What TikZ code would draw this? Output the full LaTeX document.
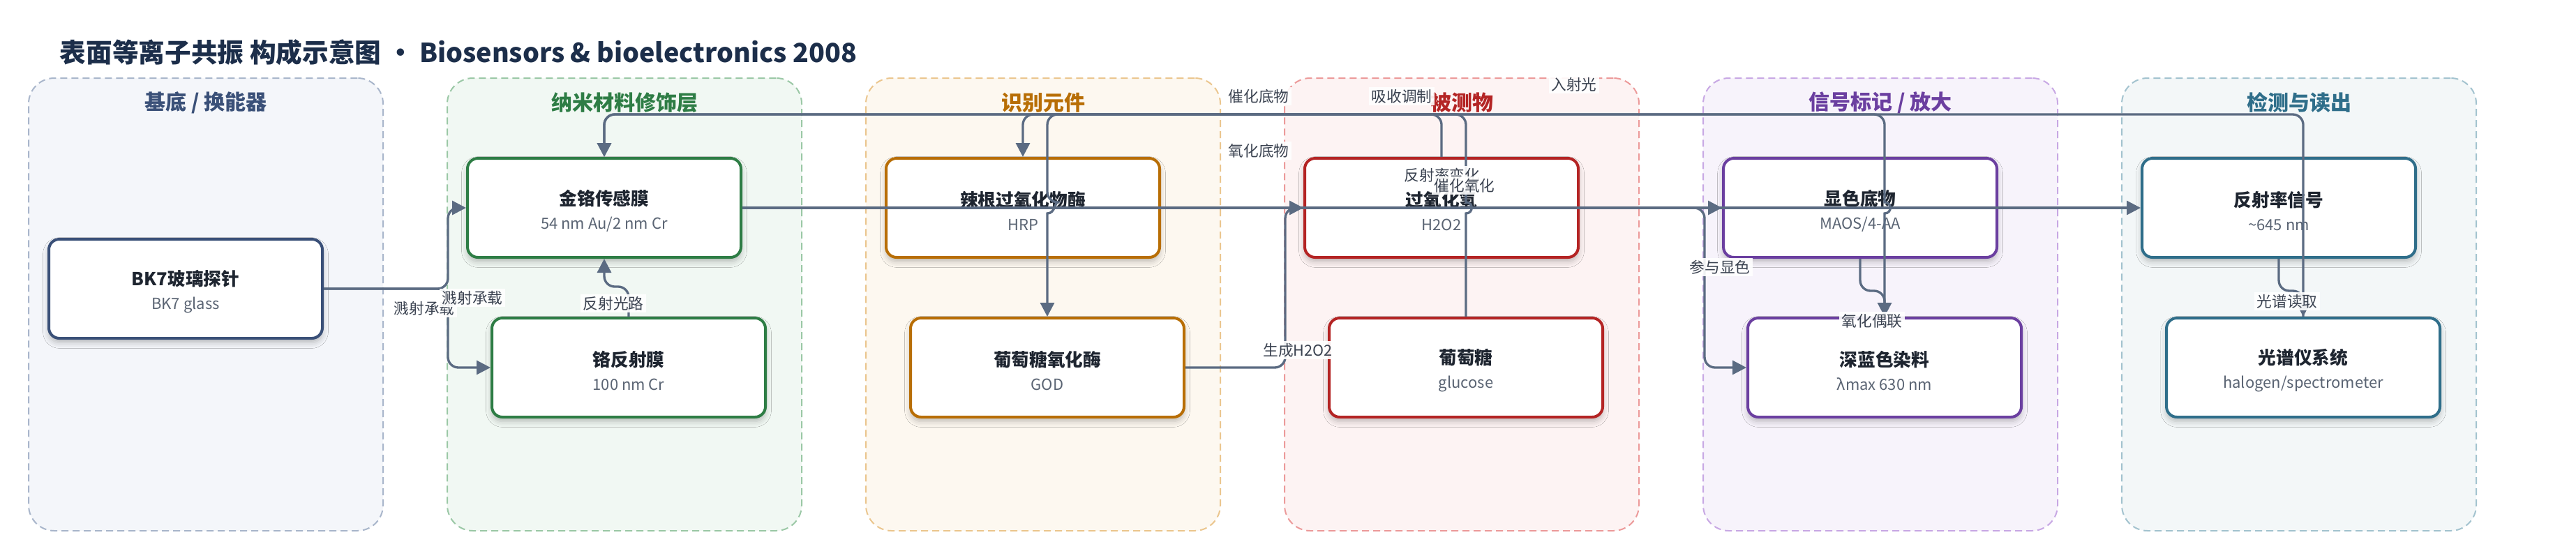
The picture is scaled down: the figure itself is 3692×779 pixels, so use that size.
\documentclass[tikz,border=0pt]{standalone}
\usepackage{fontspec}
\setmainfont{Noto Sans CJK SC}
\usetikzlibrary{arrows.meta,shadows.blur}

\definecolor{ink}{HTML}{1C2E4A}
\definecolor{flowc}{HTML}{5B6B82}
\definecolor{tagc}{HTML}{3A4250}
\definecolor{namec}{HTML}{1E2530}
\definecolor{subc}{HTML}{5A6473}
% lane colours: B border, F fill, T title and box
\definecolor{baseB}{HTML}{A9B6CB}\definecolor{baseF}{HTML}{F4F6FA}\definecolor{baseT}{HTML}{3A5078}
\definecolor{nanoB}{HTML}{9BC8A6}\definecolor{nanoF}{HTML}{F1F8F3}\definecolor{nanoT}{HTML}{2E7D45}
\definecolor{recoB}{HTML}{EBC68E}\definecolor{recoF}{HTML}{FDF8F0}\definecolor{recoT}{HTML}{B86E05}
\definecolor{anaB}{HTML}{EC9A9A}\definecolor{anaF}{HTML}{FDF3F3}\definecolor{anaT}{HTML}{B42424}
\definecolor{sigB}{HTML}{C8A8E4}\definecolor{sigF}{HTML}{F7F3FB}\definecolor{sigT}{HTML}{6B3FA0}
\definecolor{readB}{HTML}{A3C3CF}\definecolor{readF}{HTML}{F3F7F8}\definecolor{readT}{HTML}{2F6E8A}

\tikzset{
	lane/.style={draw=#1B, fill=#1F, dash pattern=on 3pt off 1.8pt, line width=0.6pt,
			rounded corners=11pt, minimum width=152.4pt, minimum height=194.7pt},
	lanetitle/.style={text=#1T, font=\fontsize{9}{10}\selectfont\bfseries},
	part/.style={draw=#1T, fill=white, line width=1.2pt, rounded corners=4.5pt,
			minimum width=117.6pt, minimum height=42.6pt, align=center,
			font=\fontsize{7.7}{10.2}\selectfont,
			blur shadow={shadow xshift=0pt, shadow yshift=-1.8pt, shadow blur radius=2.5pt, shadow opacity=25}},
	flow/.style={draw=flowc, line width=1pt, -{Triangle[length=6pt,width=6pt]}},
	tag/.style={fill=white, fill opacity=0.9, text opacity=1, text=tagc, inner sep=1pt,
			font=\fontsize{6.5}{7}\selectfont}
}
\newcommand{\parttext}[2]{\rule{0pt}{9.2pt}{\bfseries\color{namec}#1}\\{\fontsize{6.6}{10.2}\selectfont\color{subc}#2}}

\begin{document}
\begin{tikzpicture}[x=0.3pt,y=-0.3pt]
	\fill[white] (0,0) rectangle (3692,779);
	\useasboundingbox (0,0) rectangle (3692,779);

	% title
	\node[anchor=west, text=ink, font=\fontsize{11.3}{13}\selectfont\bfseries] (title) at (74,75)
	{表面等离子共振 构成示意图 · Biosensors \& bioelectronics 2008};

	% lanes
	\foreach \i/\c/\t in {0/base/{基底 / 换能器}, 1/nano/纳米材料修饰层, 2/reco/识别元件,
			3/ana/被测物, 4/sig/{信号标记 / 放大}, 5/read/检测与读出} {
			\node[lane=\c] (lane\i) at (295+600*\i,436.5) {};
			\node[lanetitle=\c] (lt\i) at (295+600*\i,147) {\t};
		}

	% parts
	\node[part=base] (bk7) at (266,414) {\parttext{BK7玻璃探针}{BK7 glass}};
	\node[part=nano] (gold) at (866,298) {\parttext{金铬传感膜}{54 nm Au/2 nm Cr}};
	\node[part=nano] (chrome) at (901,527) {\parttext{铬反射膜}{100 nm Cr}};
	\node[part=reco] (hrp) at (1466,298) {\parttext{辣根过氧化物酶}{HRP}};
	\node[part=reco] (god) at (1501,527) {\parttext{葡萄糖氧化酶}{GOD}};
	\node[part=ana] (h2o2) at (2066,298) {\parttext{过氧化氢}{H2O2}};
	\node[part=ana] (glu) at (2101,527) {\parttext{葡萄糖}{glucose}};
	\node[part=sig] (chromo) at (2666,298) {\parttext{显色底物}{MAOS/4-AA}};
	\node[part=sig] (dye) at (2701,527) {\parttext{深蓝色染料}{λmax 630 nm}};
	\node[part=read] (refl) at (3266,298) {\parttext{反射率信号}{\textasciitilde645 nm}};
	\node[part=read] (spec) at (3301,527) {\parttext{光谱仪系统}{halogen/spectrometer}};

	% routing helpers
	\coordinate (top) at (0,164);
	\coordinate (hophi) at (0,290);
	\coordinate (hoplo) at (0,306);
	\coordinate (g1) at (642,0);
	\coordinate (g3) at (1842,0);
	\coordinate (g4) at (2443,0);

	% substrate and films
	\draw[flow, rounded corners=4.5pt] (bk7.east) -| (g1 |- gold.west) -- (gold.west);
	\draw[flow, rounded corners=4.5pt] (bk7.east) -| (g1 |- chrome.west) -- (chrome.west);
	\draw[flow, rounded corners=4.5pt] (chrome.north) -- ++(0,-43) -| (gold.south);

	% routes over the top
	\draw[flow, rounded corners=4.5pt] (spec.north) -- (spec.north |- top) -| (gold.north);
	\draw[flow, rounded corners=4.5pt] (h2o2.north) -- (h2o2.north |- top) -| (hrp.north);
	\draw[flow] (glu.north) -- (glu.north |- hoplo) .. controls +(11,0) and +(11,0) .. (glu.north |- hophi)
	[rounded corners=4.5pt] -- (glu.north |- top) -| (god.north |- hophi)
	[sharp corners] .. controls +(11,0) and +(11,0) .. (god.north |- hoplo) -- (god.north);
	\draw[flow] (dye.north) -- (dye.north |- hoplo) .. controls +(11,0) and +(11,0) .. (dye.north |- hophi)
	[rounded corners=4.5pt] -- (dye.north |- top) -| (gold.north);

	% reactions
	\draw[flow, rounded corners=4.5pt] (god.east) -| (g3 |- h2o2.west) -- (h2o2.west);
	\draw[flow] (hrp.east) -- (chromo.west);
	\draw[flow, rounded corners=4.5pt] (h2o2.east) -| (g4 |- dye.west) -- (dye.west);
	\draw[flow, rounded corners=4.5pt] (chromo.south) -- ++(0,46) -| (dye.north);

	% readout
	\draw[flow] (gold.east) -- (refl.west);
	\draw[flow, rounded corners=4.5pt] (refl.south) -- ++(0,46) -| (spec.north);

	% connector labels
	\node[tag] (t1) at (608,442) {溅射承载};
	\node[tag] (t2) at (677,427) {溅射承载};
	\node[tag] (t3) at (879,435) {反射光路};
	\node[tag] (t4) at (2256,121) {入射光};
	\node[tag] (t5) at (1804,138) {催化底物};
	\node[tag] (t6) at (1804,216) {氧化底物};
	\node[tag] (t7) at (2009,138) {吸收调制};
	\node[tag] (t8) at (2067,251) {反射率变化};
	\node[tag] (t9) at (2099,266) {催化氧化};
	\node[tag] (t10) at (1860,502) {生成H2O2};
	\node[tag] (t11) at (2465,383) {参与显色};
	\node[tag] (t12) at (2683,460) {氧化偶联};
	\node[tag] (t13) at (3278,432) {光谱读取};
\end{tikzpicture}
\end{document}
